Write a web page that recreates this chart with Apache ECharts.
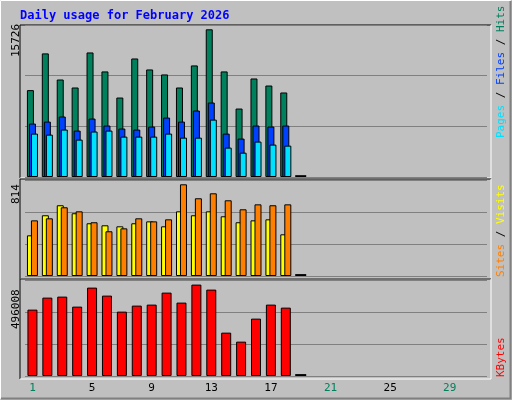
<!DOCTYPE html>
<html><head><meta charset="utf-8">
<script src="https://cdn.jsdelivr.net/npm/echarts@6/dist/echarts.min.js"></script>
<style>html,body{margin:0;padding:0;background:#C0C0C0}#c{width:512px;height:400px}</style>
</head><body><div id="c"></div>
<script>
const days = Array.from({length:31},(_,i)=>String(i+1));
const weekendDays = ['1','7','8','14','15','21','22','28','29'];
const hits = [9250,13160,10380,9530,13260,11240,8460,12620,11450,10920,9530,11880,15726,11240,7290,10490,9740,9000];
const files = [5690,5900,6440,4940,6220,5480,5160,5050,5370,6330,5900,7080,7930,4620,4090,5480,5370,5480];
const pages = [4620,4510,5050,3980,4840,4940,4300,4300,4300,4620,4190,4190,6110,3130,2590,3770,3450,3340];
const visits = [361,539,628,557,468,450,441,468,485,441,574,539,574,530,477,494,503,370];
const sites = [494,512,610,574,477,397,423,512,485,503,814,690,734,672,592,636,628,636];
const kbytes = [360190,425350,430780,376480,479650,436210,349330,381910,387340,452500,398200,496008,468790,235300,186430,311320,387340,371050];
const todayIndex = 18;
const maxHits = 15726, maxSites = 814, maxKB = 496008;

const mono = '"DejaVu Sans Mono", monospace';
const grids = [
  {left:25, right:25, top:25, height:152},
  {left:25, right:25, top:180, height:96},
  {left:25, right:25, top:280, height:96}
];
const ymax = [maxHits*152/147.7, maxSites*96/91.7, maxKB*96/91.4];
function marker(v){ return days.map((d,i)=> i===todayIndex ? v : null); }
const xAxis = [], yAxis = [];
for (let g=0; g<3; g++){
  for (let k=0;k<2;k++){
    xAxis.push({type:'category', data:days, gridIndex:g, show: g===2 && k===0,
      axisLine:{show:false}, axisTick:{show:false},
      axisLabel:{margin:7, fontFamily:mono, fontSize:11,
        formatter:v=> weekendDays.includes(v) ? '{w|'+v+'}' : '{n|'+v+'}',
        rich:{w:{color:'#00805C',fontFamily:mono,fontSize:11}, n:{color:'#000',fontFamily:mono,fontSize:11}}}});
  }
  yAxis.push({type:'value', gridIndex:g, min:0, max:ymax[g], interval:ymax[g]/3,
    axisLabel:{show:false}, axisLine:{show:false}, axisTick:{show:false},
    splitLine:{show:true, lineStyle:{color:'#808080', width:1}}});
}
const bs = {borderColor:'#000', borderWidth:1};
const series = [
  {type:'bar', name:'Hits', data:hits, xAxisIndex:0, yAxisIndex:0, barWidth:7, barGap:'-71%', itemStyle:{color:'#00805C',...bs}},
  {type:'bar', name:'Files', data:files, xAxisIndex:0, yAxisIndex:0, barWidth:7, barGap:'-71%', itemStyle:{color:'#0040FF',...bs}},
  {type:'bar', name:'Pages', data:pages, xAxisIndex:0, yAxisIndex:0, barWidth:7, barGap:'-71%', itemStyle:{color:'#00E0FF',...bs}},
  {type:'bar', data:marker(ymax[0]*0.012), xAxisIndex:1, yAxisIndex:0, barWidth:11, itemStyle:{color:'#000'}},
  {type:'bar', name:'Visits', data:visits, xAxisIndex:2, yAxisIndex:1, barWidth:7, barGap:'-43%', itemStyle:{color:'#FFFF00',...bs}},
  {type:'bar', name:'Sites', data:sites, xAxisIndex:2, yAxisIndex:1, barWidth:7, barGap:'-43%', itemStyle:{color:'#FF8000',...bs}},
  {type:'bar', data:marker(ymax[1]*0.02), xAxisIndex:3, yAxisIndex:1, barWidth:11, itemStyle:{color:'#000'}},
  {type:'bar', name:'KBytes', data:kbytes, xAxisIndex:4, yAxisIndex:2, barWidth:10, itemStyle:{color:'#FF0000',...bs}},
  {type:'bar', data:marker(ymax[2]*0.02), xAxisIndex:5, yAxisIndex:2, barWidth:11, itemStyle:{color:'#000'}}
];
series.forEach(s=>{s.animation=false; s.silent=true;});
function panel(y,h){
  return [
    {type:'polyline', shape:{points:[[20,y+h],[20,y],[491,y]]}, style:{stroke:'#000',lineWidth:1,fill:null}},
    {type:'polyline', shape:{points:[[20,y+h],[491,y+h],[491,y]]}, style:{stroke:'#fff',lineWidth:1,fill:null}}
  ];
}
function vtext(x,yBottom,parts){
  return {type:'text', x:x, y:yBottom, rotation:Math.PI/2,
    style:{text:parts.map(p=>'{'+p[1]+'|'+p[0]+'}').join(''), fontFamily:mono, fontSize:11, textVerticalAlign:'middle', textAlign:'left',
      rich:{g:{fill:'#00805C'},b:{fill:'#0040FF'},c:{fill:'#00E0FF'},k:{fill:'#000'},y:{fill:'#FFFF00'},o:{fill:'#FF8000'},r:{fill:'#FF0000'}}}};
}
const graphic = [
  {type:'rect', shape:{x:0.5,y:0.5,width:510,height:398}, style:{fill:null, stroke:'#fff', lineWidth:1}},
  {type:'polyline', shape:{points:[[1,398.5],[510.5,398.5],[510.5,1]]}, style:{stroke:'#808080',lineWidth:2,fill:null}},
  ...panel(25,153), ...panel(179,100), ...panel(279,100),
  {type:'text', x:20, y:16, style:{text:'Daily usage for February 2026', fill:'#0000FF', fontFamily:mono, fontWeight:'bold', fontSize:12, textVerticalAlign:'middle'}},
  {type:'text', x:16, y:57, rotation:Math.PI/2, style:{text:String(maxHits), fill:'#000', fontFamily:mono, fontSize:11, textVerticalAlign:'middle'}},
  {type:'text', x:16, y:204, rotation:Math.PI/2, style:{text:String(maxSites), fill:'#000', fontFamily:mono, fontSize:11, textVerticalAlign:'middle'}},
  {type:'text', x:16, y:329, rotation:Math.PI/2, style:{text:String(maxKB), fill:'#000', fontFamily:mono, fontSize:11, textVerticalAlign:'middle'}},
  vtext(501,138,[['Pages','c'],[' / ','k'],['Files','b'],[' / ','k'],['Hits','g']]),
  vtext(501,277,[['Sites','o'],[' / ','k'],['Visits','y']]),
  vtext(501,377,[['KBytes','r']])
];
const chart = echarts.init(document.getElementById('c'));
chart.setOption({backgroundColor:'#C0C0C0', animation:false, grid:grids, xAxis, yAxis, series, graphic});
</script></body></html>
